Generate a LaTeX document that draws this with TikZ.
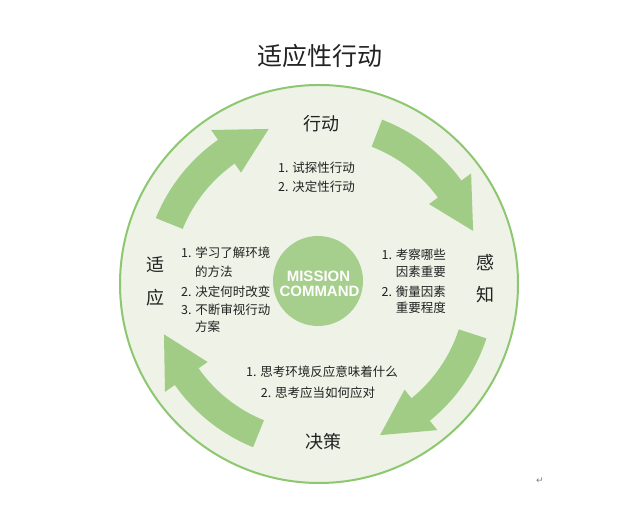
\documentclass[tikz,border=0pt]{standalone}
\usepackage{fontspec}
\newfontfamily\cjk{Noto Sans CJK SC}
\newfontfamily\mcfont{Liberation Sans}
\newfontfamily\symfont{DejaVu Sans}
\definecolor{ringc}{HTML}{8DC870}
\definecolor{bgc}{HTML}{EEF2E7}
\definecolor{arrowc}{HTML}{A0CC85}
\definecolor{innerc}{HTML}{A6CE8C}
\definecolor{txtc}{HTML}{222222}
\tikzset{
  ttl/.style={inner sep=0, text=txtc, font=\cjk\fontsize{25}{25}\selectfont},
  lbl/.style={inner sep=0, text=txtc, font=\cjk\fontsize{18}{18}\selectfont},
  itm/.style={inner sep=0, text=txtc, font=\cjk\fontsize{12.5}{12.5}\selectfont},
  mc/.style={inner sep=0, text=white, font=\mcfont\bfseries\fontsize{15}{15}\selectfont},
}
\newcommand\bigarrow[1]{%
  \pgfmathsetmacro\arrB{#1-33}%
  \pgfmathsetmacro\arrP{#1-50}%
  \fill[arrowc] (#1:176) arc[start angle=#1,end angle=\arrB,radius=176]
    -- (\arrB:188) -- (\arrP:163) -- (\arrB:136) -- (\arrB:147)
    arc[start angle=\arrB,end angle=#1,radius=147] -- cycle;}
\begin{document}
\begin{tikzpicture}[x=1pt,y=1pt]
\useasboundingbox (0,0) rectangle (640,505);
\fill[white] (0,0) rectangle (640,505);
\node[circle, draw=ringc, line width=2pt, fill=bgc, minimum size=398pt, inner sep=0] (ring) at (319,221) {};
\begin{scope}[shift={(319,221)}]
  \bigarrow{158}
  \bigarrow{69}
  \bigarrow{-18}
  \bigarrow{248}
\end{scope}
\node[circle, fill=innerc, minimum size=90pt, inner sep=0] (core) at (318,224) {};
\node[mc] (m1) at (318.5,228.5) {MISSION};
\node[mc] (m2) at (319.5,214) {COMMAND};
\node[ttl] (title) at (320,449) {适应性行动};
\node[lbl] (act) at (321,381) {行动};
\node[itm, anchor=west] (a1) at (278,337) {1. 试探性行动};
\node[itm, anchor=west] (a2) at (278,318) {2. 决定性行动};
\node[lbl] (ad1) at (155,240) {适};
\node[lbl] (ad2) at (155,207) {应};
\node[itm, anchor=west] (l1) at (181,252) {1. 学习了解环境};
\node[itm, anchor=west] (l1b) at (195,233) {的方法};
\node[itm, anchor=west] (l2) at (181,213) {2. 决定何时改变};
\node[itm, anchor=west] (l3) at (181,195) {3. 不断审视行动};
\node[itm, anchor=west] (l3b) at (195,178) {方案};
\node[itm, anchor=east] (r1) at (446,250) {1. 考察哪些};
\node[itm, anchor=east] (r1b) at (446,233) {因素重要};
\node[itm, anchor=east] (r2) at (446,213) {2. 衡量因素};
\node[itm, anchor=east] (r2b) at (446,197) {重要程度};
\node[lbl] (pe1) at (485,242) {感};
\node[lbl] (pe2) at (485,210) {知};
\node[itm] (b1) at (322,133) {1. 思考环境反应意味着什么};
\node[itm] (b2) at (318,112) {2. 思考应当如何应对};
\node[lbl] (dec) at (323,63) {决策};
\node[inner sep=0, text=gray, font=\symfont\fontsize{9}{9}\selectfont] (ret) at (540,24) {↵};
\end{tikzpicture}
\end{document}
